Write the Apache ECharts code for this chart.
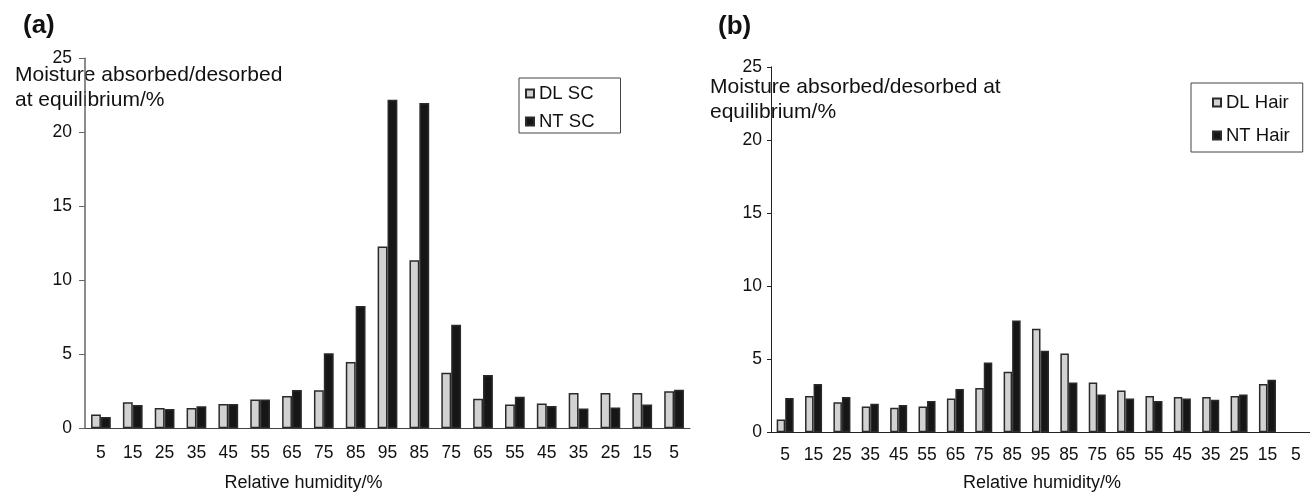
<!DOCTYPE html>
<html>
<head>
<meta charset="utf-8">
<script src="https://cdn.jsdelivr.net/npm/echarts@6/dist/echarts.min.js"></script>
<style>
  html, body { margin: 0; padding: 0; background: #fff; overflow: hidden; }
  #chart { width: 1310px; height: 494px; }
</style>
</head>
<body>
<div id="chart"></div>
<script>
// relative humidity steps: absorption 5 -> 95, then desorption 95 -> 5
var humidity = ["5", "15", "25", "35", "45", "55", "65", "75", "85", "95",
  "85", "75", "65", "55", "45", "35", "25", "15", "5"];

// (a) stratum corneum
var dlSC = [0.93, 1.76, 1.37, 1.37, 1.64, 1.94, 2.18, 2.57, 4.48, 12.28,
  11.35, 3.76, 2.0, 1.6, 1.67, 2.39, 2.39, 2.39, 2.5];
var ntSC = [0.76, 1.57, 1.31, 1.49, 1.64, 1.94, 2.59, 5.07, 8.26, 22.2,
  21.98, 7.0, 3.6, 2.14, 1.51, 1.33, 1.4, 1.6, 2.61];

// (b) hair, last desorption step has no value
var dlHair = [0.87, 2.48, 2.05, 1.77, 1.68, 1.77, 2.32, 3.03, 4.14, 7.09,
  5.39, 3.41, 2.86, 2.48, 2.41, 2.41, 2.48, 3.3, null];
var ntHair = [2.34, 3.3, 2.41, 1.96, 1.87, 2.14, 2.96, 4.77, 7.64, 5.57,
  3.41, 2.59, 2.32, 2.14, 2.32, 2.23, 2.59, 3.6, null];

var yTitleA = "Moisture absorbed/desorbed\nat equilibrium/%";
var yTitleB = "Moisture absorbed/desorbed at\nequilibrium/%";
var xTitle = "Relative humidity/%";

var FONT = '"Liberation Sans", Arial, sans-serif';
var lightFill = "#d2d2d2";
var darkFill = "#161616";

function xAxisOpt(idx, margin, lineColor) {
  return {
    type: "category",
    gridIndex: idx,
    data: humidity,
    axisLine: { lineStyle: { color: lineColor, width: 1 } },
    axisTick: { length: 5, lineStyle: { color: lineColor } },
    axisLabel: { color: "#111", fontSize: 17.5, fontFamily: FONT, margin: margin, interval: 0 }
  };
}

function yAxisOpt(idx, tickLen, margin, lineColor, lineWidth) {
  return {
    type: "value",
    gridIndex: idx,
    min: 0,
    max: 25,
    interval: 5,
    splitLine: { show: false },
    axisLine: { show: true, lineStyle: { color: lineColor, width: lineWidth } },
    axisTick: { show: true, length: tickLen, lineStyle: { color: lineColor } },
    axisLabel: { color: "#111", fontSize: 17.5, fontFamily: FONT, margin: margin }
  };
}

function barSeries(name, data, idx, fill, gap) {
  return {
    name: name,
    type: "bar",
    xAxisIndex: idx,
    yAxisIndex: idx,
    data: data,
    barGap: "0%",
    barCategoryGap: gap,
    itemStyle: { color: fill, borderColor: "#2a2a2a", borderWidth: 1.5 },
    emphasis: { disabled: true }
  };
}

var chart = echarts.init(document.getElementById("chart"));
chart.setOption({
  animation: false,
  backgroundColor: "#fff",
  textStyle: { fontFamily: FONT },
  grid: [
    { left: 85, top: 58.3, width: 605, height: 370 },
    { left: 771, top: 66.8, width: 544, height: 365.5 }
  ],
  xAxis: [xAxisOpt(0, 16, "#444"), xAxisOpt(1, 14, "#222")],
  yAxis: [yAxisOpt(0, 6, 13, "#666", 1.5), yAxisOpt(1, 4, 9, "#222", 1)],
  legend: [
    {
      data: ["DL SC", "NT SC"],
      orient: "vertical",
      icon: "rect",
      left: 519,
      top: 78,
      itemWidth: 8,
      itemHeight: 8,
      itemGap: 9,
      padding: [6, 26, 2, 6],
      borderColor: "#444",
      borderWidth: 1,
      textStyle: { fontSize: 18.5, color: "#111", fontFamily: FONT, padding: [0, 0, 0, 0] }
    },
    {
      data: ["DL Hair", "NT Hair"],
      orient: "vertical",
      icon: "rect",
      left: 1191,
      top: 83,
      itemWidth: 8,
      itemHeight: 8,
      itemGap: 14,
      padding: [10, 13, 7, 21],
      borderColor: "#444",
      borderWidth: 1,
      textStyle: { fontSize: 18.5, color: "#111", fontFamily: FONT, padding: [0, 0, 0, 0] }
    }
  ],
  series: [
    barSeries("DL SC", dlSC, 0, lightFill, "38%"),
    barSeries("NT SC", ntSC, 0, darkFill, "38%"),
    barSeries("DL Hair", dlHair, 1, lightFill, "40%"),
    barSeries("NT Hair", ntHair, 1, darkFill, "40%")
  ],
  graphic: [
    { type: "text", left: 23, top: 13, style: { text: "(a)", font: "bold 26px " + FONT, fill: "#111" } },
    { type: "text", left: 718, top: 14, style: { text: "(b)", font: "bold 26px " + FONT, fill: "#111" } },
    { type: "text", left: 15, top: 63, style: { text: yTitleA, font: "21px " + FONT, fill: "#111", lineHeight: 25 } },
    { type: "text", left: 710, top: 75, style: { text: yTitleB, font: "21px " + FONT, fill: "#111", lineHeight: 25 } },
    { type: "text", x: 303.5, y: 483, style: { text: xTitle, font: "18px " + FONT, fill: "#111", align: "center", verticalAlign: "middle" } },
    { type: "text", x: 1042, y: 483, style: { text: xTitle, font: "18px " + FONT, fill: "#111", align: "center", verticalAlign: "middle" } }
  ]
});
</script>
</body>
</html>
